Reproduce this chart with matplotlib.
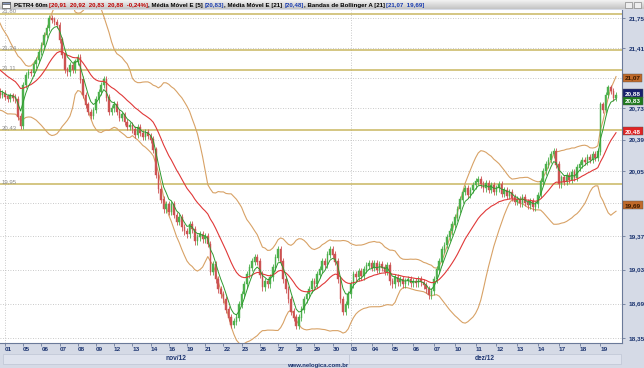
import matplotlib.pyplot as plt
import matplotlib.transforms as mtransforms
from matplotlib.colors import LinearSegmentedColormap
from matplotlib.patches import Rectangle
from matplotlib.ticker import FixedLocator, NullLocator
import numpy as np
import pandas as pd

# closes before 01/nov, out of view, only feed the indicators
warmup = [21.70, 21.72, 21.65, 21.60, 21.66, 21.55, 21.50, 21.52, 21.45, 21.40, 21.42, 21.33,
          21.25, 21.28, 21.18, 21.10, 21.05, 21.08, 21.00, 20.95, 20.92, 20.96, 20.88, 20.92]

# 60m closes, one line per session (31/oct has 2 bars in view)
closes = [
    20.88, 20.90,                                            # 31/10
    20.86, 20.84, 20.87, 20.85, 20.83, 20.64, 20.54,         # 01
    20.99, 21.10, 21.13, 21.12, 21.22, 21.27, 21.36,         # 05
    21.44, 21.55, 21.63, 21.75, 21.73, 21.70, 21.67,         # 06
    21.50, 21.33, 21.16, 21.13, 21.21, 21.16, 21.25,         # 07
    21.30, 21.05, 20.88, 20.77, 20.69, 20.65, 20.71,         # 08
    20.83, 20.91, 20.99, 21.05, 20.85, 20.69, 20.73,         # 09
    20.78, 20.69, 20.63, 20.66, 20.58, 20.53, 20.55,         # 12
    20.50, 20.44, 20.52, 20.46, 20.42, 20.47, 20.43,         # 13
    20.39, 20.28, 20.01, 19.86, 19.75, 19.65, 19.70,         # 14
    19.62, 19.70, 19.59, 19.52, 19.56, 19.46, 19.42,         # 16
    19.39, 19.49, 19.44, 19.32, 19.36, 19.39, 19.34,         # 19
    19.37, 19.29, 19.01, 19.08, 18.93, 18.83, 18.78,         # 21
    18.73, 18.63, 18.55, 18.48, 18.51, 18.55, 18.68,         # 22
    18.78, 18.88, 18.98, 19.05, 19.11, 19.15, 19.11,         # 23
    18.98, 18.85, 18.91, 18.88, 18.95, 19.05, 19.15,         # 26
    19.23, 19.11, 18.93, 18.83, 18.73, 18.61, 18.55,         # 27
    18.47, 18.55, 18.63, 18.73, 18.78, 18.83, 18.91,         # 28
    18.88, 18.98, 19.03, 19.11, 19.08, 19.18, 19.23,         # 29
    19.18, 19.11, 18.93, 18.73, 18.61, 18.68, 18.78,         # 30
    18.88, 18.98, 18.95, 19.01, 18.96, 19.03, 19.07, 19.09,  # 03/12
    19.05, 19.09, 19.03, 19.08, 19.05, 19.01, 19.07, 18.91,  # 04
    18.88, 18.95, 18.90, 18.93, 18.88, 18.91, 18.93, 18.89,  # 05
    18.91, 18.89, 18.93, 18.90, 18.87, 18.83, 18.77, 18.81,  # 06
    18.93, 19.03, 19.11, 19.23, 19.28, 19.36, 19.42, 19.49,  # 07
    19.56, 19.65, 19.75, 19.83, 19.87, 19.80, 19.85, 19.90,  # 10
    19.94, 19.96, 19.91, 19.87, 19.92, 19.85, 19.90, 19.83,  # 11
    19.87, 19.91, 19.81, 19.85, 19.79, 19.83, 19.77, 19.73,  # 12
    19.75, 19.71, 19.77, 19.72, 19.69, 19.73, 19.67, 19.70,  # 13
    19.80, 19.94, 20.05, 20.12, 20.17, 20.23, 20.26, 20.12,  # 14
    19.91, 19.98, 19.94, 20.01, 19.96, 20.04, 19.98, 20.09,  # 17
    20.12, 20.17, 20.15, 20.20, 20.17, 20.23, 20.19, 20.26,  # 18
    20.77, 20.71, 20.88, 20.96, 20.92, 20.85, 20.88,         # 19
]

day_labels = ['01', '05', '06', '07', '08', '09', '12', '13', '14', '16', '19', '21', '22',
              '23', '26', '27', '28', '29', '30',
              '03', '04', '05', '06', '07', '10', '11', '12', '13', '14', '17', '18', '19']
day_bars = [7] * 19 + [8] * 13
months = ['nov/12', 'dez/12']
month_days = [19, 13]

y_ticks = [18.35, 18.69, 19.03, 19.37, 19.71, 20.05, 20.39, 20.73, 21.07, 21.41, 21.75]
levels = [21.80, 21.38, 21.16, 20.49, 19.91]
level_labels = ['21,80', '21,34', '21,11', '20,43', '19,95']

last_ohlc = [20.91, 20.92, 20.83, 20.88]
last_change = -0.24
ema5_last, ema21_last = 20.83, 20.48
bb_last = [21.07, 19.69]

navy = '#1c3470'
bg = '#d5dae6'
fmt = lambda v: f'{v:.2f}'.replace('.', ',')

# indicators
full = pd.Series(warmup + closes)
ema5 = full.ewm(span=5, adjust=False).mean().values
ema21 = full.ewm(span=21, adjust=False).mean().values
mid = full.rolling(21).mean()
sd = full.rolling(21).std(ddof=0)
bb_up = (mid + 2 * sd).values
bb_lo = (mid - 2 * sd).values
xs_full = np.arange(-len(warmup), len(closes))

c = np.array(closes)
o = np.r_[warmup[-1], c[:-1]]
hi = np.maximum(o, c) + 0.035
lo = np.minimum(o, c) - 0.035
xs = np.arange(len(c))
up = c >= o

fig = plt.figure(figsize=(6.44, 3.68), dpi=100, facecolor=bg)
ax = fig.add_axes([0, 25 / 368, 622 / 644, 333 / 368])
ax.set_facecolor('white')

ax.set_yscale('log')
ax.set_ylim(18.302, 21.843)
ax.set_xlim(0.08, 239.3)

# grid
for v in y_ticks:
    ax.axhline(v, color='#b8b8b8', lw=0.6, ls=(0, (1, 2)), zorder=0)
starts = 2 + np.r_[0, np.cumsum(day_bars)[:-1]]
for s in [starts[0], starts[month_days[0]]]:
    ax.axvline(s, color='#b8b8b8', lw=0.6, ls=(0, (1, 2)), zorder=0)

# drawn levels
for v, lab in zip(levels, level_labels):
    ax.axhline(v, color='#c9b660', lw=1.1, zorder=1)
    ax.text(0.6, v, lab, fontsize=4.3, color='#8c8c8c', va='bottom', family='Liberation Sans')

# candles
body = np.where(up, '#4cb04c', '#cc5252')
ax.vlines(xs, lo, hi, colors=body, lw=0.6, zorder=3)
ax.bar(xs, np.abs(c - o) + 0.004, bottom=np.minimum(o, c), width=0.62, color=body,
       edgecolor=body, lw=0.3, zorder=4)

# indicators
ax.plot(xs_full, bb_up, color='#d8a266', lw=0.8, zorder=2)
ax.plot(xs_full, bb_lo, color='#d8a266', lw=0.8, zorder=2)
ax.plot(xs_full, ema21, color='#e03838', lw=0.8, zorder=5)
ax.plot(xs_full, ema5, color='#2f9a2f', lw=0.7, zorder=5)

# axes styling
for sp in ['left', 'top']:
    ax.spines[sp].set_visible(False)
for sp in ['right', 'bottom']:
    ax.spines[sp].set_color('#6b7a99')
    ax.spines[sp].set_linewidth(0.8)

# value boxes on the price axis (they hide the tick labels under them)
boxes = [(bb_last[0], bb_last[0], '#c06a2a', '#3a1a00'),
         (last_ohlc[3] + 0.015, last_ohlc[3], '#17206e', 'white'),
         (ema5_last - 0.015, ema5_last, '#1d7a1d', 'white'),
         (ema21_last, ema21_last, '#e02424', 'white'),
         (bb_last[1], bb_last[1], '#c06a2a', '#3a1a00')]
hidden = [v for v in y_ticks if any(abs(v - b[0]) < 0.04 for b in boxes)]

ax.yaxis.tick_right()
ax.yaxis.set_major_locator(FixedLocator(y_ticks))
ax.yaxis.set_minor_locator(NullLocator())
ax.set_yticklabels(['' if v in hidden else fmt(v) for v in y_ticks])
ax.tick_params(axis='y', which='major', length=2, width=0.6, color='#6b7a99', pad=3,
               labelsize=4.6, labelcolor=navy)

ax.set_xticks(starts)
ax.set_xticklabels([])
ax.set_xticks(starts + 1.3, minor=True)
ax.set_xticklabels(day_labels, minor=True)
ax.tick_params(axis='x', which='major', length=2, width=0.6, color='#6b7a99')
ax.tick_params(axis='x', which='minor', length=0, pad=3, labelsize=4.6, labelcolor=navy)
for t in ax.get_xticklabels(minor=True) + ax.get_yticklabels():
    t.set_family('Liberation Sans')
    t.set_fontweight('bold')

tr = mtransforms.blended_transform_factory(ax.transAxes, ax.transData)
for ypos, val, fc, tc in boxes:
    ax.text(1 + 3 / 622, ypos, fmt(val), transform=tr, fontsize=4.6, color=tc, va='center',
            ha='left', family='Liberation Sans', fontweight='bold', clip_on=False, zorder=20,
            bbox=dict(boxstyle='square,pad=0.25', fc=fc, ec='#555555', lw=0.3))

# month bars under the axis
trm = mtransforms.blended_transform_factory(ax.transData, fig.transFigure)
m0 = 0
for name, nd in zip(months, month_days):
    a = starts[m0] - 0.8
    b = (starts[m0 + nd] - 0.8) if m0 + nd < len(starts) else 239.0
    ax.add_patch(Rectangle((a, 4 / 368), b - a, 10 / 368, transform=trm, clip_on=False,
                           fc='#dfe3ee', ec='#c3c9d8', lw=0.6))
    ax.text((a + b) / 2, 9 / 368, name, transform=trm, fontsize=4.8, color=navy,
            ha='center', va='center', family='Liberation Sans', fontweight='bold')
    m0 += nd
fig.text(318 / 644, 0.5 / 368, 'www.nelogica.com.br', fontsize=4.3, color=navy, ha='center',
         va='bottom', family='Liberation Sans', fontweight='bold')

# title bar
tb = fig.add_axes([0, 359 / 368, 1, 9 / 368])
grad = np.linspace(0, 1, 20).reshape(-1, 1)
tb.imshow(grad, aspect='auto', extent=[0, 644, 0, 9],
          cmap=LinearSegmentedColormap.from_list('tb', ['#f2f2f2', '#c4c4c4']))
tb.set_xlim(0, 644)
tb.set_ylim(0, 9)
tb.axis('off')
tb.add_patch(Rectangle((2, 1.5), 8, 6, fc='white', ec='#555555', lw=0.5))
tb.add_patch(Rectangle((2, 5.5), 8, 2, fc='#8899bb', ec='#555555', lw=0.5))
for bx in [625, 634]:
    tb.add_patch(Rectangle((bx, 1.5), 7, 6, fc='#eeeeee', ec='#888888', lw=0.5))

parts = [
    ('PETR4 60m ', 'black'),
    ('[' + '  '.join(fmt(v) for v in last_ohlc) + f'  {fmt(last_change)}%]', '#c00000'),
    (', Média Móvel E [5] ', 'black'),
    (f'[{fmt(ema5_last)}]', '#1a3cb0'),
    (', Média Móvel E [21] ', 'black'),
    (f'[{fmt(ema21_last)}]', '#1a3cb0'),
    (', Bandas de Bollinger A [21] ', 'black'),
    (f'[{fmt(bb_last[0])}  {fmt(bb_last[1])}]', '#1a3cb0'),
]
prev = tb.text(14, 2, parts[0][0], fontsize=4.4, color=parts[0][1], fontweight='bold',
               family='Liberation Sans', va='baseline')
for s, cl in parts[1:]:
    prev = tb.annotate(s, xy=(1, 0), xycoords=prev, fontsize=4.4, color=cl, fontweight='bold',
                       family='Liberation Sans', va='bottom', ha='left')

fig.savefig('out.png', dpi=100, facecolor=bg)
